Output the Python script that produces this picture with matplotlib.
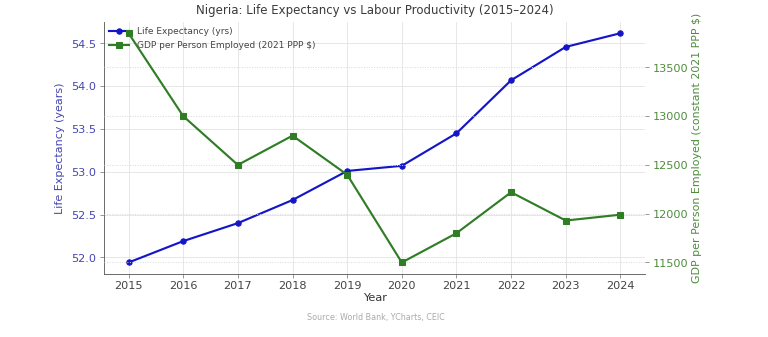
import matplotlib
matplotlib.use("Agg")
import matplotlib.pyplot as plt

years = [2015, 2016, 2017, 2018, 2019, 2020, 2021, 2022, 2023, 2024]
life_exp = [51.94, 52.19, 52.40, 52.67, 53.01, 53.07, 53.45, 54.07, 54.46, 54.62]
gdp_per_worker = [13850, 13000, 12500, 12800, 12400, 11500, 11800, 12220, 11930, 11990]

blue = '#1515c8'
green = '#2f7d25'
blue_txt = '#4545b0'
green_txt = '#4e8c3c'

fig = plt.figure(figsize=(10, 4.39), dpi=76.8)
ax1 = fig.add_axes([0.1354, 0.187, 0.7044, 0.748])

# life expectancy on the left axis
l1, = ax1.plot(years, life_exp, color=blue, marker='o', markersize=5, linewidth=2,
               label='Life Expectancy (yrs)')
ax1.set_xlabel('Year', fontsize=10.5, color='#333333', labelpad=2)
ax1.set_ylabel('Life Expectancy (years)', fontsize=10.4, color=blue_txt, labelpad=6)
ax1.tick_params(axis='y', labelcolor=blue_txt, labelsize=10.5, color='#888888')
ax1.tick_params(axis='x', labelsize=10.5, labelcolor='#444444', color='#888888', pad=2.5)
ax1.set_xticks(years)
ax1.grid(True, color='#e4e4e4', linewidth=0.8)
ax1.set_axisbelow(True)

# GDP per person employed on the right axis
ax2 = ax1.twinx()
l2, = ax2.plot(years, gdp_per_worker, color=green, marker='s', markersize=5, linewidth=2,
               label='GDP per Person Employed (2021 PPP $)')
ax2.set_ylabel('GDP per Person Employed (constant 2021 PPP $)', fontsize=10.3, color=green_txt)
ax2.tick_params(axis='y', labelcolor=green_txt, labelsize=10.5, color='#888888')
ax2.set_yticks([11500, 12000, 12500, 13000, 13500])
ax2.grid(True, axis='y', color='#d8d8d8', linestyle=':', linewidth=0.9)

for ax in (ax1, ax2):
    ax.spines['top'].set_visible(False)
    ax.spines['right'].set_visible(False)
    ax.spines['left'].set_color('#555555')
    ax.spines['bottom'].set_color('#555555')
ax2.spines['left'].set_visible(False)
ax2.spines['bottom'].set_visible(False)

leg = ax1.legend(handles=[l1, l2], loc='upper left', frameon=False, fontsize=8.5,
                 borderaxespad=0.2, handlelength=2.2)
for t in leg.get_texts():
    t.set_color('#444444')

ax1.set_title('Nigeria: Life Expectancy vs Labour Productivity (2015\u20132024)',
              fontsize=11, color='#3a3a3a', pad=7)
fig.text(0.49, 0.05, 'Source: World Bank, YCharts, CEIC', ha='center', fontsize=7.5,
         color='#aaaaaa')

fig.savefig('out.png', dpi=76.8)
